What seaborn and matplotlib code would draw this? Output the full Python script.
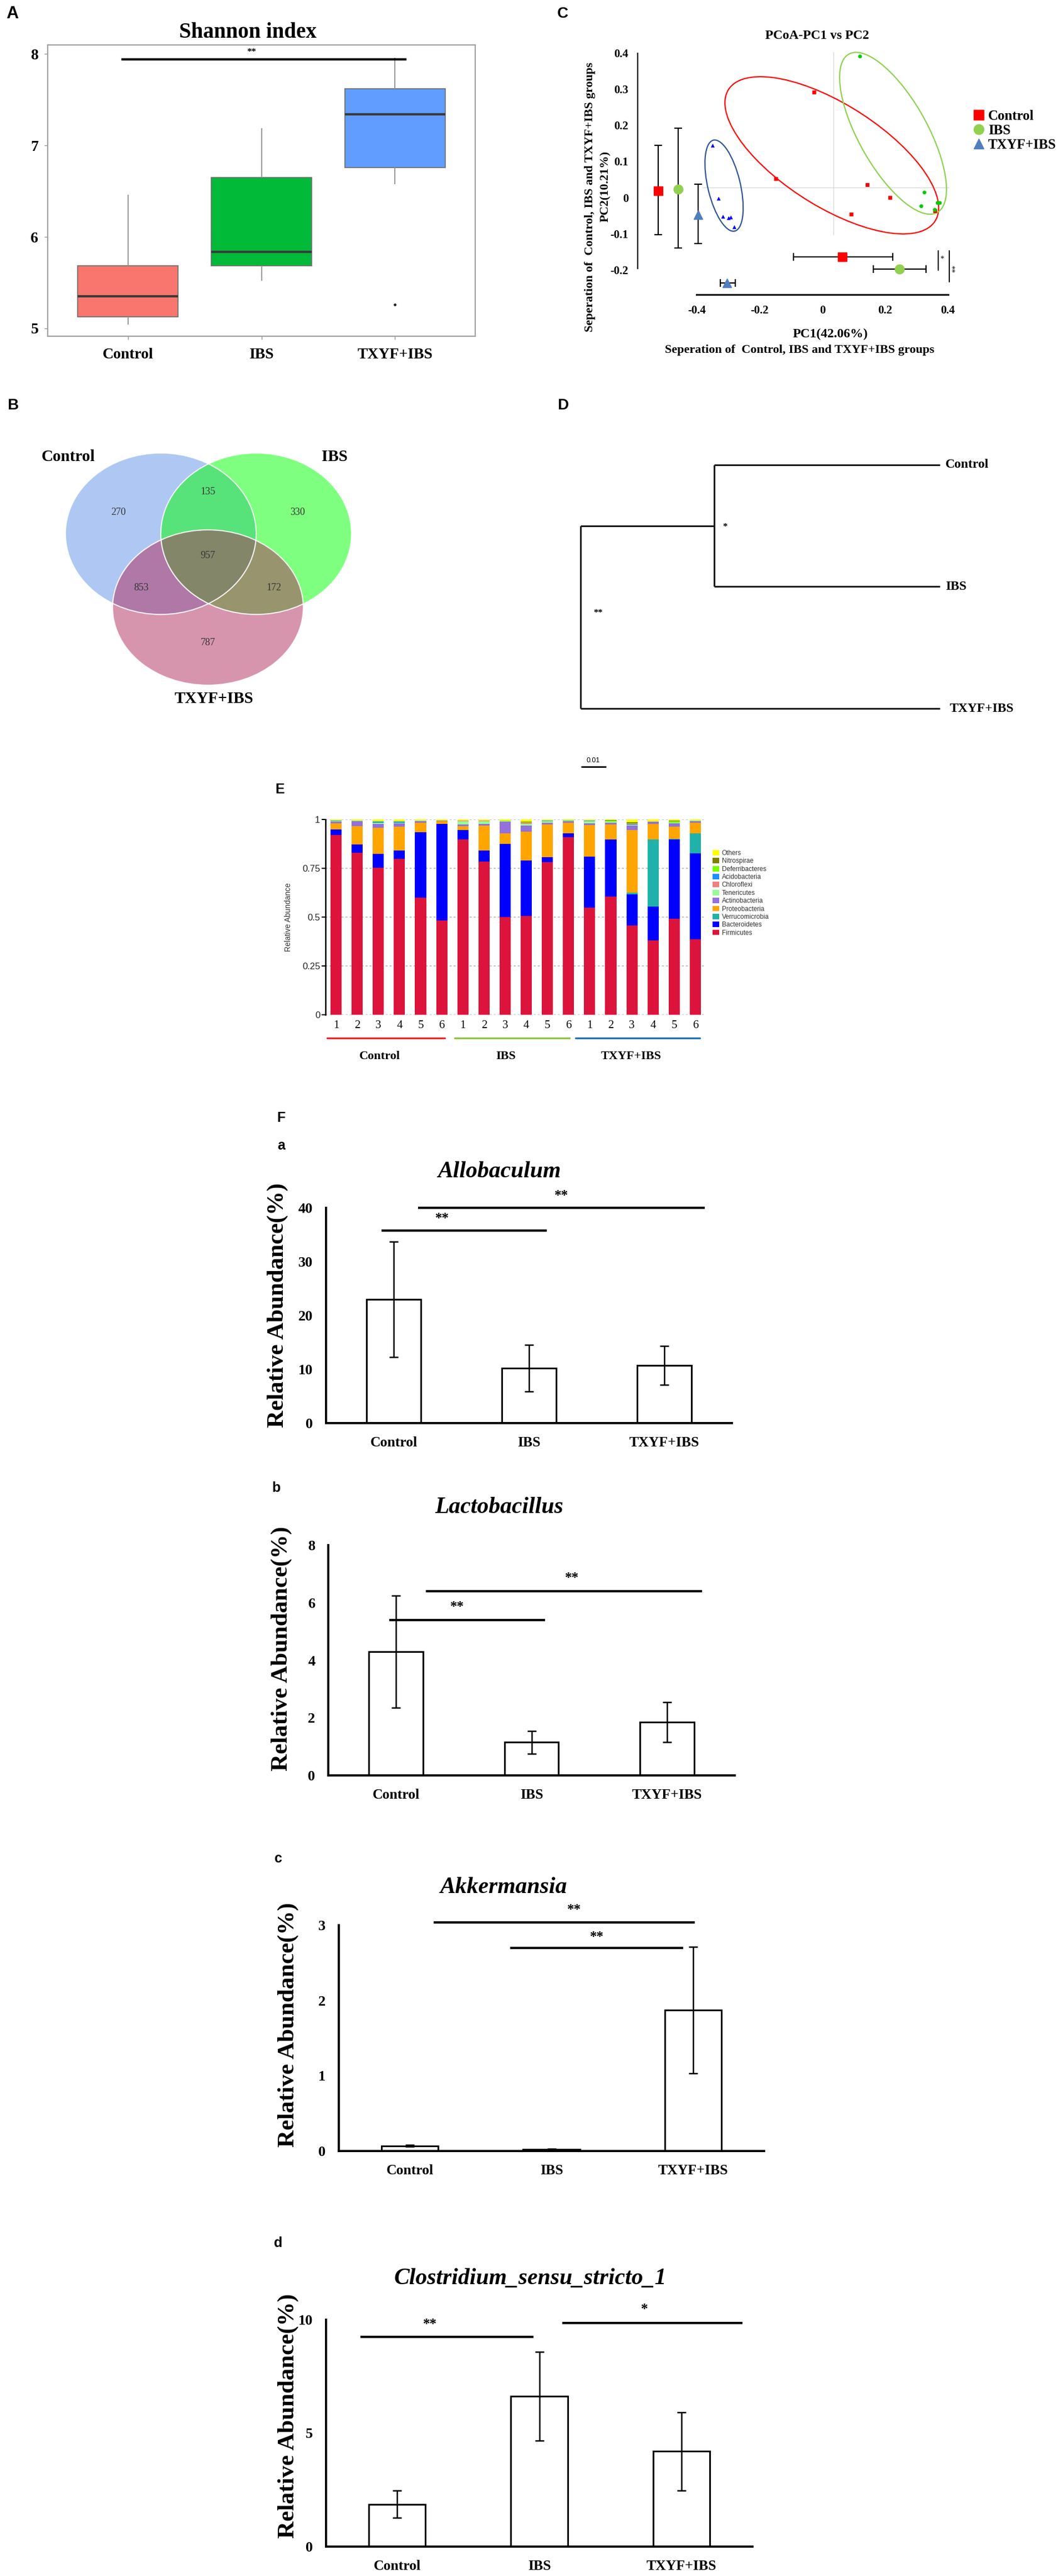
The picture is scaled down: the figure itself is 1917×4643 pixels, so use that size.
import numpy as np
import pandas as pd
import matplotlib
matplotlib.use("Agg")
import matplotlib.pyplot as plt
import seaborn as sns
from matplotlib.patches import Ellipse, Patch
from matplotlib.lines import Line2D

# ---------------------------------------------------------------- data
groups = ["Control", "IBS", "TXYF+IBS"]

# A: Shannon index (6 samples per group)
shannon_control = [5.04, 5.07, 5.30, 5.40, 5.78, 6.46]
shannon_ibs = [5.52, 5.65, 5.78, 5.90, 6.90, 7.19]
shannon_txyf = [5.26, 6.58, 7.30, 7.38, 7.70, 7.96]
shannon_ticks = [5, 6, 7, 8]
box_colors = ["#F8766D", "#00BA38", "#619CFF"]

# B: Venn diagram counts
venn_regions = ["Control", "IBS", "TXYF+IBS", "Control&IBS",
                "Control&TXYF+IBS", "IBS&TXYF+IBS", "all"]
venn_counts = [270, 330, 787, 135, 853, 172, 957]
venn_colors = ["#6191E9", "#00FF00", "#B12B5D"]

# C: PCoA
pc1_control = [-0.026, -0.147, 0.143, 0.216, 0.092, 0.360]
pc2_control = [0.291, 0.051, 0.034, 0.000, -0.047, -0.037]
pc1_ibs = [0.120, 0.325, 0.315, 0.367, 0.374, 0.358]
pc2_ibs = [0.391, 0.014, -0.024, -0.015, -0.015, -0.034]
pc1_txyf = [-0.349, -0.330, -0.316, -0.298, -0.291, -0.280]
pc2_txyf = [0.144, -0.003, -0.053, -0.057, -0.055, -0.082]
pc1_group_mean = [0.064, 0.246, -0.303]
pc1_group_low = [-0.092, 0.162, -0.325]
pc1_group_high = [0.224, 0.330, -0.278]
pc2_group_mean = [0.019, 0.023, -0.048]
pc2_group_low = [-0.103, -0.140, -0.127]
pc2_group_high = [0.145, 0.192, 0.037]
ellipse_pc1 = [0.030, 0.225, -0.313]
ellipse_pc2 = [0.117, 0.178, 0.033]
ellipse_width = [0.753, 0.522, 0.261]
ellipse_height = [0.293, 0.211, 0.103]
ellipse_angle = [-27.7, -56.0, -74.3]
pc1_ticks = [-0.4, -0.2, 0, 0.2, 0.4]
pc1_ticklabels = ["-0.4", "-0.2", "0", "0.2", "0.4"]
pc2_ticks = [0.4, 0.3, 0.2, 0.1, 0, -0.1, -0.2]
pc2_ticklabels = ["0.4", "0.3", "0.2", "0.1", "0", "-0.1", "-0.2"]
point_colors = ["#FF0000", "#00CC00", "#0000FF"]
mean_colors = ["#FF0000", "#92D050", "#4F7FBF"]
ellipse_colors = ["#FF0000", "#8ED14F", "#2F5597"]

# D: clustering tree
tree_leaves = ["Control", "IBS", "TXYF+IBS"]
tree_merge_heights = [0.0947, 0.1507]
tree_merge_sig = ["*", "**"]
scale_bar_length = 0.01

# E: phylum-level relative abundance (18 samples)
sample_labels = ["1", "2", "3", "4", "5", "6"] * 3
firmicutes = [0.920, 0.830, 0.753, 0.797, 0.599, 0.484, 0.899, 0.785, 0.500,
              0.507, 0.780, 0.910, 0.547, 0.604, 0.458, 0.380, 0.491, 0.387]
bacteroidetes = [0.028, 0.041, 0.070, 0.045, 0.337, 0.494, 0.047, 0.057, 0.375,
                 0.283, 0.027, 0.019, 0.262, 0.293, 0.158, 0.174, 0.406, 0.441]
verrucomicrobia = [0, 0, 0.001, 0, 0, 0, 0, 0, 0,
                   0, 0, 0, 0.002, 0.002, 0.008, 0.345, 0.003, 0.101]
proteobacteria = [0.031, 0.096, 0.133, 0.120, 0.047, 0.014, 0.019, 0.127, 0.054,
                  0.148, 0.167, 0.054, 0.161, 0.076, 0.321, 0.079, 0.062, 0.054]
actinobacteria = [0.011, 0.024, 0.021, 0.017, 0.009, 0.002, 0.009, 0.007, 0.061,
                  0.031, 0.009, 0.009, 0.009, 0.008, 0.024, 0.010, 0.017, 0.009]
tenericutes = [0.002, 0.002, 0.005, 0.005, 0.001, 0.001, 0.018, 0.016, 0.001,
               0.007, 0.008, 0.002, 0.010, 0.005, 0.004, 0.001, 0.004, 0.001]
chloroflexi = [0, 0, 0.001, 0, 0, 0, 0.001, 0.001, 0,
               0.006, 0.001, 0, 0.001, 0, 0.001, 0, 0, 0]
acidobacteria = [0.001, 0.001, 0.005, 0.005, 0.001, 0, 0.001, 0.001, 0.001,
                 0.002, 0.001, 0.001, 0.001, 0.001, 0.002, 0.001, 0.001, 0.001]
deferribacteres = [0.001, 0.001, 0.002, 0.002, 0.001, 0, 0.001, 0.001, 0.002,
                   0.003, 0.002, 0.001, 0.002, 0.006, 0.005, 0, 0.008, 0.001]
nitrospirae = [0, 0, 0.001, 0.001, 0, 0, 0, 0, 0,
               0.002, 0, 0, 0, 0.001, 0.006, 0, 0.002, 0]
others = [0.006, 0.005, 0.008, 0.008, 0.005, 0.005, 0.005, 0.005, 0.006,
          0.011, 0.005, 0.004, 0.005, 0.004, 0.013, 0.010, 0.006, 0.005]
phylum_names = ["Firmicutes", "Bacteroidetes", "Verrucomicrobia", "Proteobacteria",
                "Actinobacteria", "Tenericutes", "Chloroflexi", "Acidobacteria",
                "Deferribacteres", "Nitrospirae", "Others"]
phylum_values = [firmicutes, bacteroidetes, verrucomicrobia, proteobacteria,
                 actinobacteria, tenericutes, chloroflexi, acidobacteria,
                 deferribacteres, nitrospirae, others]
phylum_colors = ["#DC143C", "#0000FF", "#20B2AA", "#FFA500", "#9370DB", "#98FB98",
                 "#F08080", "#1E90FF", "#7CFC00", "#808000", "#FFFF00"]
group_line_colors = ["#E8262A", "#8DC63F", "#1F74B8"]

# F: genus-level relative abundance (%) mean and SD
allobaculum_mean = [23.0, 10.2, 10.7]
allobaculum_sd = [10.7, 4.3, 3.6]
lactobacillus_mean = [4.3, 1.15, 1.85]
lactobacillus_sd = [1.95, 0.40, 0.70]
akkermansia_mean = [0.07, 0.025, 1.87]
akkermansia_sd = [0.012, 0.004, 0.84]
clostridium_mean = [1.87, 6.63, 4.20]
clostridium_sd = [0.61, 1.96, 1.72]

# ---------------------------------------------------------------- setup
sns.set_theme(style="white")
SERIF = ["Liberation Serif", "DejaVu Serif"]
SANS = ["Liberation Sans", "DejaVu Sans"]
plt.rcParams["font.family"] = SERIF
plt.rcParams["text.color"] = "black"
plt.rcParams["xtick.color"] = "black"
plt.rcParams["ytick.color"] = "black"
plt.rcParams["axes.edgecolor"] = "black"

W, H = 1917, 4643
fig = plt.figure(figsize=(W / 100, H / 100), dpi=100)
fig.patch.set_facecolor("white")


def add_ax(l, t, r, b):
    return fig.add_axes([l / W, 1 - b / H, (r - l) / W, (b - t) / H])


def ftext(x, y, s, **kw):
    kw.setdefault("ha", "center")
    kw.setdefault("va", "center")
    fig.text(x / W, 1 - y / H, s, **kw)


def letter(x, y, s, size=20):
    ftext(x, y, s, fontsize=size, fontweight="bold", family=SANS)


def bold_ticks(ax, size):
    for lab in ax.get_xticklabels() + ax.get_yticklabels():
        lab.set_fontweight("bold")
        lab.set_fontsize(size)


# ---------------------------------------------------------------- A
letter(22, 25, "A", 22)
ftext(447, 58, "Shannon index", fontsize=28, fontweight="bold")
dfA = pd.DataFrame({"group": np.repeat(groups, 6),
                    "Shannon": shannon_control + shannon_ibs + shannon_txyf})
axA = add_ax(86, 81, 857, 606)
sns.boxplot(data=dfA, x="group", y="Shannon", hue="group", palette=box_colors,
            saturation=1, width=0.75, linewidth=1.3, linecolor="#707070",
            showcaps=False, whis=1.5, legend=False, ax=axA,
            flierprops=dict(marker="o", markersize=2.5, markerfacecolor="#222222",
                            markeredgecolor="#222222"),
            medianprops=dict(color="#3A3A3A", linewidth=3),
            whiskerprops=dict(color="#9A9A9A", linewidth=1.5))
axA.set_xlim(-0.6, 2.6)
axA.set_ylim(4.915, 8.10)
axA.set_xlabel("")
axA.set_ylabel("")
axA.set_yticks(shannon_ticks)
for sp in axA.spines.values():
    sp.set_visible(True)
    sp.set_color("#A0A0A0")
    sp.set_linewidth(1.6)
axA.tick_params(axis="both", length=4, width=1, color="#909090", bottom=True, left=True)
axA.tick_params(axis="x", pad=11)
axA.tick_params(axis="y", pad=8)
bold_ticks(axA, 20)
axA.plot([-0.046, 2.087], [7.94, 7.94], color="black", lw=3, solid_capstyle="butt")
axA.text(0.925, 8.02, "**", ha="center", va="center", fontsize=12, fontweight="bold")

# ---------------------------------------------------------------- B
letter(23, 731, "B")
axB = add_ax(0, 700, 960, 1300)
axB.set_xlim(0, 960)
axB.set_ylim(1300, 700)
axB.axis("off")
venn_centres = [(290, 962), (462, 962), (375, 1095)]
venn_sizes = [(344, 291), (344, 291), (344, 280)]
for (cx, cy), (w, h), col in zip(venn_centres, venn_sizes, venn_colors):
    axB.add_patch(Ellipse((cx, cy), w, h, facecolor=col, edgecolor="none", alpha=0.5))
for (cx, cy), (w, h) in zip(venn_centres, venn_sizes):
    axB.add_patch(Ellipse((cx, cy), w, h, fill=False, edgecolor="white", lw=1.5, alpha=0.9))
venn_text_pos = [(214, 924), (537, 924), (375, 1159), (375, 887),
                 (255, 1060), (494, 1060), (375, 1002)]
for (tx, ty), n in zip(venn_text_pos, venn_counts):
    axB.text(tx, ty, str(n), ha="center", va="center", fontsize=13, color="#333333")
for (tx, ty), g in zip([(123, 824), (603, 824), (386, 1260)], groups):
    axB.text(tx, ty, g, ha="center", va="center", fontsize=21, fontweight="bold")

# ---------------------------------------------------------------- C
letter(1015, 25, "C")
ftext(1474, 65, "PCoA-PC1 vs PC2", fontsize=17, fontweight="bold")
pcoa = pd.DataFrame({"group": np.repeat(groups, 6),
                     "PC1": pc1_control + pc1_ibs + pc1_txyf,
                     "PC2": pc2_control + pc2_ibs + pc2_txyf})
axC = add_ax(1150, 90, 1730, 531)
axC.set_xlim(-0.588, 0.436)
axC.set_ylim(-0.269, 0.409)
axC.plot([0.035, 0.035], [-0.103, 0.403], color="#D9D9D9", lw=1, zorder=0)
axC.plot([-0.381, 0.403], [0.028, 0.028], color="#D9D9D9", lw=1, zorder=0)
for cx, cy, w, h, a, col in zip(ellipse_pc1, ellipse_pc2, ellipse_width,
                                ellipse_height, ellipse_angle, ellipse_colors):
    axC.add_patch(Ellipse((cx, cy), w, h, angle=a, fill=False, edgecolor=col, lw=1.6))
sns.scatterplot(data=pcoa, x="PC1", y="PC2", hue="group", style="group",
                palette=point_colors,
                markers={"Control": "s", "IBS": "o", "TXYF+IBS": "^"},
                s=25, edgecolor="none", legend=False, ax=axC, zorder=3)
mean_markers = ["s", "o", "^"]
vert_x = [-0.522, -0.459, -0.395]
horiz_y = [-0.164, -0.199, -0.236]
for i in range(3):
    axC.errorbar(vert_x[i], pc2_group_mean[i],
                 yerr=[[pc2_group_mean[i] - pc2_group_low[i]],
                       [pc2_group_high[i] - pc2_group_mean[i]]],
                 fmt=mean_markers[i], color=mean_colors[i], ecolor="black",
                 elinewidth=1.6, capsize=5, capthick=1.6, markersize=12, zorder=4)
    axC.errorbar(pc1_group_mean[i], horiz_y[i],
                 xerr=[[pc1_group_mean[i] - pc1_group_low[i]],
                       [pc1_group_high[i] - pc1_group_mean[i]]],
                 fmt=mean_markers[i], color=mean_colors[i], ecolor="black",
                 elinewidth=1.6, capsize=5, capthick=1.6, markersize=12, zorder=4)
axC.plot([0.369, 0.369], [-0.148, -0.202], color="black", lw=1.5)
axC.text(0.381, -0.170, "*", ha="center", va="center", fontsize=10)
axC.plot([0.404, 0.404], [-0.148, -0.234], color="black", lw=1.5)
axC.text(0.425, -0.196, "**", ha="center", va="center", fontsize=10, rotation=90)
axC.set_xlabel("")
axC.set_ylabel("")
for s in ["top", "right"]:
    axC.spines[s].set_visible(False)
axC.spines["left"].set_bounds(-0.197, 0.40)
axC.spines["left"].set_linewidth(1.6)
axC.spines["bottom"].set_bounds(-0.4, 0.4)
axC.spines["bottom"].set_linewidth(2.2)
axC.set_xticks(pc1_ticks, labels=pc1_ticklabels)
axC.set_yticks(pc2_ticks, labels=pc2_ticklabels)
axC.tick_params(axis="both", length=0)
axC.tick_params(axis="x", pad=14)
axC.tick_params(axis="y", pad=12)
bold_ticks(axC, 15)
ftext(1497, 602, "PC1(42.06%)", fontsize=17, fontweight="bold")
ftext(1442, 631, "Seperation of  Control, IBS and TXYF+IBS groups", fontsize=16,
      fontweight="bold")
ftext(1092, 336, "PC2(10.21%)", fontsize=16, fontweight="bold", rotation=90)
ftext(1064, 355, "Seperation of  Control, IBS and TXYF+IBS groups", fontsize=16,
      fontweight="bold", rotation=90)
legend_handles = [Line2D([], [], marker=m, color=c, linestyle="", markersize=13)
                  for m, c in zip(mean_markers, mean_colors)]
fig.legend(legend_handles, groups, loc="upper left",
           bbox_to_anchor=(1752 / W, 1 - 198 / H), frameon=False,
           prop=dict(family=SERIF, weight="bold", size=18), handletextpad=0.2,
           labelspacing=0.12, borderpad=0, borderaxespad=0, handlelength=1.0)

# ---------------------------------------------------------------- D
letter(1015, 731, "D")
axD = add_ax(1000, 760, 1917, 1400)
axD.set_xlim(0.1616, -0.0516)
axD.set_ylim(2.560, -0.355)
axD.axis("off")
leaf_y = [0, 1, 2]
inner_y = (leaf_y[0] + leaf_y[1]) / 2
h1, h2 = tree_merge_heights
lc = dict(color="#1A1A1A", lw=2.2, solid_capstyle="butt")
axD.plot([0, h1], [leaf_y[0], leaf_y[0]], **lc)
axD.plot([0, h1], [leaf_y[1], leaf_y[1]], **lc)
axD.plot([h1, h1], [leaf_y[0], leaf_y[1]], **lc)
axD.plot([h1, h2], [inner_y, inner_y], **lc)
axD.plot([0, h2], [leaf_y[2], leaf_y[2]], **lc)
axD.plot([h2, h2], [inner_y, leaf_y[2]], **lc)
for yv, name, off in zip(leaf_y, tree_leaves, [-0.0023, -0.0023, -0.0042]):
    axD.text(off, yv, name, ha="left", va="center", fontsize=17, fontweight="bold")
axD.text(h1 - 0.0045, inner_y + 0.01, tree_merge_sig[0], ha="center", va="center",
         fontsize=12, fontweight="bold")
axD.text(h2 - 0.0075, 1.216, tree_merge_sig[1], ha="center", va="center",
         fontsize=12, fontweight="bold")
axD.plot([0.1503, 0.1503 - scale_bar_length], [2.478, 2.478], color="black", lw=2)
axD.text(0.1503 - scale_bar_length / 2, 2.43, "0.01", ha="center", va="center",
         fontsize=9, family=SANS)

# ---------------------------------------------------------------- E
letter(505, 1423, "E", 18)
axE = add_ax(587, 1477, 1273, 1829)
xs = np.arange(len(sample_labels))
bottom = np.zeros(len(sample_labels))
for name, vals, col in zip(phylum_names, phylum_values, phylum_colors):
    v = np.array(vals, dtype=float)
    axE.bar(xs, v, bottom=bottom, width=0.525, color=col, linewidth=0, zorder=2,
            label=name)
    bottom += v
axE.set_xlim(-0.5, 17.5)
axE.set_ylim(0, 1)
axE.set_yticks([0, 0.25, 0.5, 0.75, 1], labels=["0", "0.25", "0.5", "0.75", "1"])
axE.yaxis.grid(True, linestyle=(0, (2, 2)), color="#BDBDBD", lw=1.3, zorder=0)
axE.set_axisbelow(True)
for s in ["top", "right", "bottom"]:
    axE.spines[s].set_visible(False)
axE.spines["left"].set_linewidth(1.8)
axE.tick_params(axis="y", left=True, length=5, width=1.5, pad=2, labelsize=12,
                labelcolor="#222222")
for lab in axE.get_yticklabels():
    lab.set_family(SANS)
axE.set_xticks(xs, labels=sample_labels)
axE.tick_params(axis="x", length=0, pad=7, labelsize=15)
spans = [(-0.42, 5.14), (5.62, 11.05), (11.34, 17.2)]
for (x0, x1), col, g in zip(spans, group_line_colors, groups):
    axE.plot([x0, x1], [-0.118, -0.118], color=col, lw=2.4, clip_on=False)
    axE.text((x0 + x1) / 2 - 0.3, -0.212, g, ha="center", va="center", fontsize=16,
             fontweight="bold")
ftext(520, 1653, "Relative Abundance", fontsize=10, rotation=90, family=SANS,
      color="#333333")
e_handles = [Patch(facecolor=c, edgecolor="none") for c in phylum_colors][::-1]
fig.legend(e_handles, phylum_names[::-1], loc="upper left",
           bbox_to_anchor=(1285 / W, 1 - 1532 / H), frameon=False,
           prop=dict(family=SANS, size=8.5), handlelength=1.0, handleheight=0.9,
           handletextpad=0.4, labelspacing=0.2, borderpad=0, borderaxespad=0,
           labelcolor="#333333")

# ---------------------------------------------------------------- F
letter(507, 2015, "F", 18)
f_panels = [
    dict(tag="a", tag_pos=(507, 2065), box=(588, 2177, 1320, 2565), ymax=40,
         yticks=[0, 10, 20, 30, 40], title="Allobaculum", title_pos=(900, 2112),
         ylab_pos=(501, 2353), mean=allobaculum_mean, sd=allobaculum_sd,
         sig=dict(x0=[-0.09, 0.18], x1=[1.13, 2.30], y=[35.8, 40.0],
                  lab=["**", "**"], lx=[0.36, 1.24], ly=[38.0, 42.2])),
    dict(tag="b", tag_pos=(498, 2682), box=(592, 2785, 1325, 3200), ymax=8,
         yticks=[0, 2, 4, 6, 8], title="Lactobacillus", title_pos=(900, 2717),
         ylab_pos=(508, 2972), mean=lactobacillus_mean, sd=lactobacillus_sd,
         sig=dict(x0=[-0.05, 0.22], x1=[1.10, 2.26], y=[5.4, 6.4],
                  lab=["**", "**"], lx=[0.45, 1.30], ly=[5.85, 6.85])),
    dict(tag="c", tag_pos=(502, 3350), box=(611, 3470, 1378, 3877), ymax=3,
         yticks=[0, 1, 2, 3], title="Akkermansia", title_pos=(908, 3402),
         ylab_pos=(520, 3650), mean=akkermansia_mean, sd=akkermansia_sd,
         sig=dict(x0=[0.17, 0.71], x1=[2.01, 1.93], y=[3.04, 2.70],
                  lab=["**", "**"], lx=[1.16, 1.32], ly=[3.20, 2.84])),
    dict(tag="d", tag_pos=(502, 4043), box=(588, 4181, 1357, 4590), ymax=10,
         yticks=[0, 5, 10], title="Clostridium_sensu_stricto_1", title_pos=(956, 4107),
         ylab_pos=(520, 4355), mean=clostridium_mean, sd=clostridium_sd,
         sig=dict(x0=[-0.26, 1.16], x1=[0.96, 2.43], y=[9.24, 9.85],
                  lab=["**", "*"], lx=[0.23, 1.74], ly=[9.80, 10.46])),
]
for p in f_panels:
    letter(p["tag_pos"][0], p["tag_pos"][1], p["tag"], 18)
    ftext(p["title_pos"][0], p["title_pos"][1], p["title"], fontsize=30,
          fontweight="bold", fontstyle="italic")
    ftext(p["ylab_pos"][0], p["ylab_pos"][1], "Relative Abundance(%)", fontsize=31,
          fontweight="bold", rotation=90)
    ax = add_ax(*p["box"])
    sns.barplot(x=groups, y=p["mean"], color="white", saturation=1,
                edgecolor="black", linewidth=2.2, width=0.40, errorbar=None, ax=ax)
    ax.errorbar(range(3), p["mean"], yerr=p["sd"], fmt="none", ecolor="black",
                elinewidth=1.8, capsize=6, capthick=1.8, zorder=5)
    ax.set_xlim(-0.5, 2.5)
    ax.set_ylim(0, p["ymax"])
    ax.set_yticks(p["yticks"])
    for s in ["top", "right"]:
        ax.spines[s].set_visible(False)
    for s in ["left", "bottom"]:
        ax.spines[s].set_linewidth(2.8)
        ax.spines[s].set_color("black")
    ax.tick_params(axis="both", length=0)
    ax.tick_params(axis="x", pad=17)
    ax.tick_params(axis="y", pad=17)
    bold_ticks(ax, 19)
    for lab in ax.get_xticklabels():
        lab.set_fontsize(18.5)
    sg = p["sig"]
    for x0, x1, yv, lab, lx, ly in zip(sg["x0"], sg["x1"], sg["y"], sg["lab"],
                                       sg["lx"], sg["ly"]):
        ax.plot([x0, x1], [yv, yv], color="black", lw=3, clip_on=False,
                solid_capstyle="butt")
        ax.text(lx, ly, lab, ha="center", va="center", fontsize=18,
                fontweight="bold", clip_on=False)

fig.savefig("out.png", dpi=100, facecolor="white")
